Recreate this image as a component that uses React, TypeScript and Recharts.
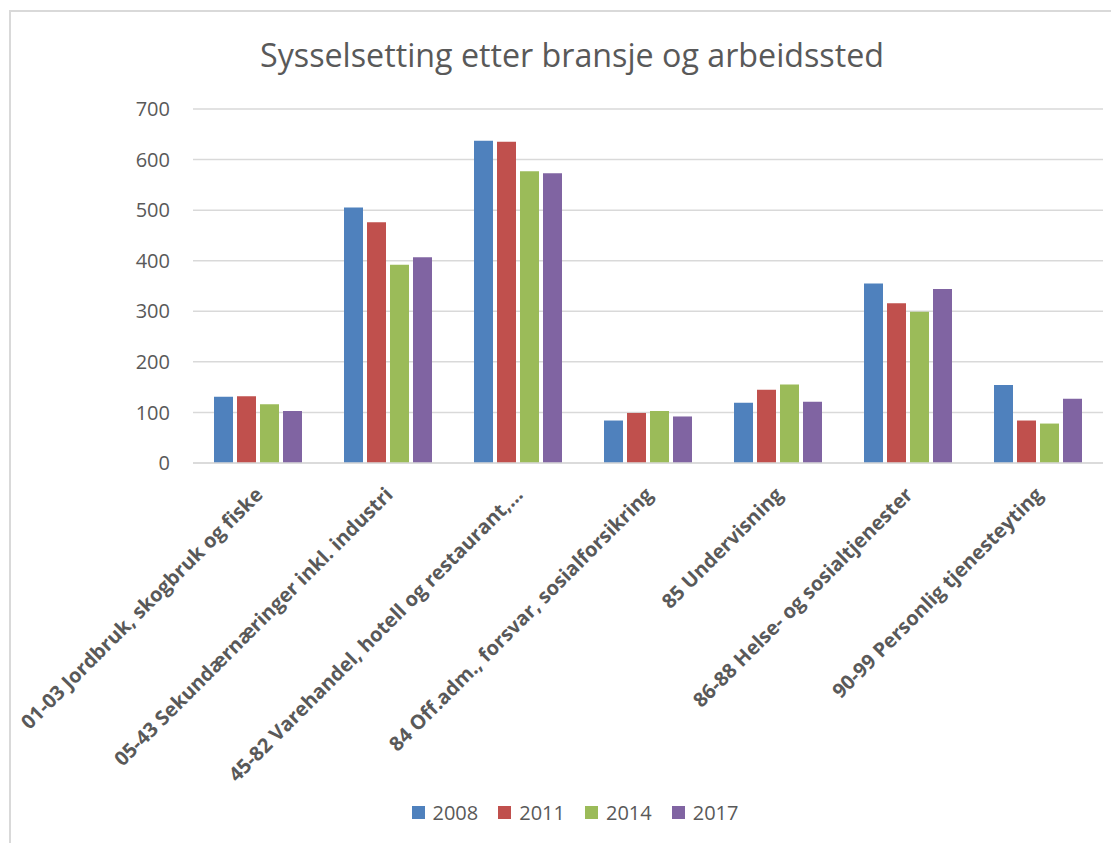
import React from 'react'
import { BarChart, Bar, XAxis, YAxis, CartesianGrid, Legend } from 'recharts'

const categories = [
  '01-03 Jordbruk, skogbruk og fiske',
  '05-43 Sekundærnæringer inkl. industri',
  '45-82 Varehandel, hotell og restaurant,…',
  '84 Off.adm., forsvar, sosialforsikring',
  '85 Undervisning',
  '86-88 Helse- og sosialtjenester',
  '90-99 Personlig tjenesteyting',
]

const v2008 = [131, 505, 637, 84, 119, 355, 154]
const v2011 = [132, 476, 635, 99, 145, 316, 84]
const v2014 = [116, 392, 577, 103, 155, 299, 78]
const v2017 = [103, 407, 573, 92, 121, 344, 127]

const yTicks = [0, 100, 200, 300, 400, 500, 600, 700]

const series = [
  { key: '2008', color: '#4F81BD' },
  { key: '2011', color: '#C0504D' },
  { key: '2014', color: '#9BBB59' },
  { key: '2017', color: '#8064A2' },
]

const chartData = categories.map((name, i) => ({
  name,
  '2008': v2008[i],
  '2011': v2011[i],
  '2014': v2014[i],
  '2017': v2017[i],
}))

const FONT = '"Open Sans", sans-serif'
const TEXT = '#595959'

// rotated category labels, anchored at their end just under the axis
function CatTick(props: any) {
  const { x, y, payload } = props
  return (
    <g transform={`translate(${x + 6},${y + 25})`}>
      <text textAnchor="end" transform="rotate(-45)" fill={TEXT} fontSize={20} fontWeight="bold" fontFamily={FONT}>
        {payload.value}
      </text>
    </g>
  )
}

function LegendBox() {
  return (
    <div style={{ height: 30, display: 'flex', justifyContent: 'center', alignItems: 'center', gap: 20, fontFamily: FONT, fontSize: 20, color: TEXT }}>
      {series.map((s) => (
        <div key={s.key} style={{ display: 'flex', alignItems: 'center', gap: 8 }}>
          <span style={{ width: 13, height: 13, background: s.color, display: 'inline-block' }} />
          <span>{s.key}</span>
        </div>
      ))}
    </div>
  )
}

export default function App() {
  return (
    <div style={{ width: 1111, height: 835, overflow: 'hidden', position: 'relative', background: '#fff' }}>
      <div style={{ position: 'absolute', left: 1, top: 2, width: 1128, height: 840, borderLeft: '2px solid #d9d9d9', borderTop: '2px solid #d9d9d9' }}>
        <svg width={1128} height={80} style={{ position: 'absolute', left: 0, top: 0 }}>
          <text x={561} y={55} textAnchor="middle" fontFamily={FONT} fontSize={33} fill={TEXT} textLength={624} lengthAdjust="spacingAndGlyphs">
            Sysselsetting etter bransje og arbeidssted
          </text>
        </svg>
        <BarChart
          width={1128}
          height={840}
          data={chartData}
          margin={{ top: 97, right: 36, left: 122, bottom: 25 }}
          barSize={19}
          barGap={4}
        >
          <CartesianGrid vertical={false} stroke="#d9d9d9" strokeWidth={1.5} />
          <XAxis
            dataKey="name"
            interval={0}
            height={334}
            tick={<CatTick />}
            tickLine={false}
            axisLine={{ stroke: '#d9d9d9', strokeWidth: 1.5 }}
          />
          <YAxis
            width={60}
            domain={[0, 700]}
            ticks={yTicks}
            axisLine={false}
            tickLine={false}
            tickMargin={17}
            tick={{ fill: TEXT, fontSize: 20, fontFamily: FONT }}
          />
          <Legend verticalAlign="bottom" wrapperStyle={{ left: 0, width: 1128 }} content={() => <LegendBox />} />
          {series.map((s) => (
            <Bar key={s.key} dataKey={s.key} fill={s.color} isAnimationActive={false} />
          ))}
        </BarChart>
      </div>
    </div>
  )
}
